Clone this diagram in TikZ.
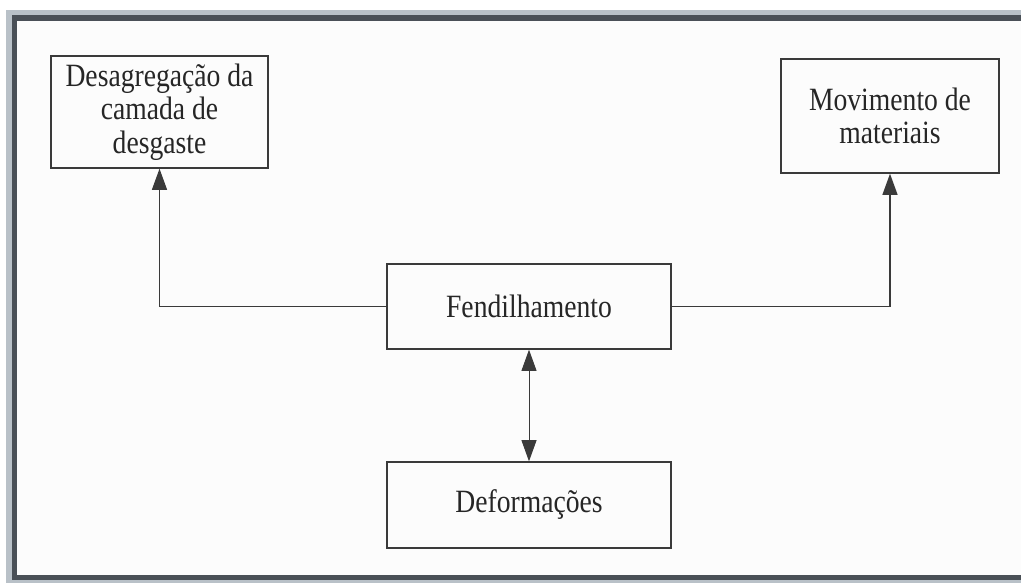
\documentclass[tikz,border=0pt]{standalone}
\usepackage{fontspec}
\setmainfont{Liberation Serif}[FakeStretch=0.85]
\usetikzlibrary{arrows.meta,positioning}

\definecolor{framelight}{HTML}{B9C1C8}
\definecolor{framedark}{HTML}{4A5057}
\definecolor{paper}{HTML}{FCFCFC}
\definecolor{ink}{HTML}{3A3A3A}

\begin{document}
\begin{tikzpicture}[x=0.02cm, y=-0.02cm,
  box/.style={rectangle, draw=ink, line width=0.8pt, fill=paper, align=center, inner sep=0pt,
    text=black!85, font=\fontsize{18.5}{19}\selectfont},
  link/.style={draw=ink, line width=0.8pt, -{Triangle[length=12pt, width=8.5pt]}}
]
\useasboundingbox (0,0) rectangle (1021,583);

% Frame
\fill[white] (0,0) rectangle (1021,583);
\fill[framelight] (6,10) rectangle (1021,583);
\fill[framedark] (12,15) rectangle (1021,580);
\fill[paper] (17,21) rectangle (1021,575);

% Boxes
\node[box, minimum width=4.34cm, minimum height=2.24cm] (desagregacao) at (159.5,112) {Desagregação da\\camada de\\desgaste};
\node[box, minimum width=4.36cm, minimum height=2.28cm] (movimento) at (890,116) {Movimento de\\materiais};
\node[box, minimum width=5.68cm, minimum height=1.70cm] (fendilhamento) at (529,306.5) {Fendilhamento};
\node[box, minimum width=5.68cm, minimum height=1.72cm] (deformacoes) at (529,505) {Deformações};

% Connections
\draw[link] (fendilhamento.west) -| (desagregacao.south);
\draw[link] (fendilhamento.east) -| (movimento.south);
\draw[link, line width=0.55pt, {Triangle[length=12pt, width=8.5pt]}-{Triangle[length=12pt, width=8.5pt]}] (fendilhamento.south) -- (deformacoes.north);

\end{tikzpicture}
\end{document}
